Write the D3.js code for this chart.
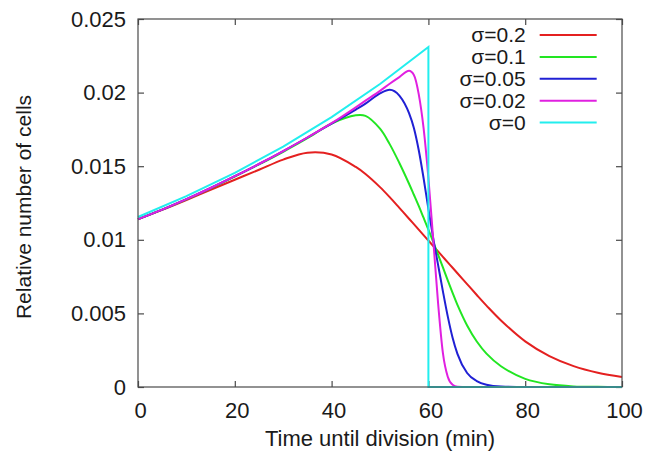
<!DOCTYPE html>
<html>
<head>
<meta charset="utf-8">
<script src="https://cdn.jsdelivr.net/npm/d3@7"></script>
<style>
  body { margin: 0; background: #fff; }
  svg { font-family: "Liberation Sans", Arial, Helvetica, sans-serif; }
  .frame { fill: none; stroke: #4a4a4a; stroke-width: 1.2; }
  .tick line { stroke: #4a4a4a; stroke-width: 1.2; }
  .tick text { font-size: 22px; fill: #1a1a1a; }
  .curve { fill: none; stroke-width: 2; }
  .lbl { font-size: 22px; fill: #1a1a1a; }
</style>
</head>
<body>
<svg id="chart"></svg>
<script>
// time until division (min), shared by the sigma > 0 curves
const times = [0,5,10,15,20,25,30,35,40,45,47,50,52,54,56,57,58,59,60,61,62,63,64,65,66,68,70,72,75,80,85,90,95,100];

const sig02 = [0.01140,0.01203,0.01270,0.01340,0.01408,0.01476,0.01545,0.01592,0.01580,0.01495,0.01447,0.01358,0.01290,0.01217,0.01143,0.01106,0.01069,0.01032,0.00995,0.00958,0.00921,0.00884,0.00847,0.00810,0.00773,0.00699,0.00625,0.00553,0.00452,0.00310,0.00210,0.00142,0.00097,0.00068];
const sig01 = [0.01140,0.01205,0.01275,0.01350,0.01430,0.01512,0.01598,0.01690,0.01790,0.01846,0.01842,0.01755,0.01650,0.01522,0.01381,0.01306,0.01230,0.01150,0.01069,0.00985,0.00899,0.00812,0.00725,0.00640,0.00558,0.00418,0.00309,0.00227,0.00141,0.00055,0.00018,0.00004,0.00001,0];
const sig005 = [0.01140,0.01205,0.01276,0.01352,0.01432,0.01515,0.01603,0.01695,0.01790,0.01885,0.01925,0.01995,0.02020,0.01980,0.01860,0.01760,0.01610,0.01420,0.01210,0.01010,0.00830,0.00650,0.00480,0.00335,0.00225,0.00095,0.00040,0.00015,0.00003,0,0,0,0,0];
const sig002 = [0.01140,0.01205,0.01276,0.01352,0.01432,0.01515,0.01603,0.01695,0.01792,0.01900,0.01945,0.02012,0.02060,0.02105,0.02148,0.02120,0.01990,0.01760,0.01420,0.01000,0.00570,0.00230,0.00070,0.00015,0.00002,0,0,0,0,0,0,0,0,0];

// sigma = 0 has a jump at 60 min
const cyanTimes = [0,10,20,30,40,50,60,60,100];
const sig0 = [0.01155,0.01297,0.01455,0.01633,0.01834,0.02058,0.02310,0,0];

const legendLabels = ["σ=0.2","σ=0.1","σ=0.05","σ=0.02","σ=0"];
const colors = ["#e42020","#22e622","#2020d4","#e020e0","#22eeee"];

const xTicks = [0,20,40,60,80,100];
const yTicks = [0,0.005,0.01,0.015,0.02,0.025];

const W = 645, H = 452;
const margin = {top: 19, right: 23, bottom: 65, left: 138};
const iw = W - margin.left - margin.right;
const ih = H - margin.top - margin.bottom;

const svg = d3.select("#chart").attr("width", W).attr("height", H);
const g = svg.append("g").attr("transform", `translate(${margin.left},${margin.top})`);

const x = d3.scaleLinear().domain([0,100]).range([0,iw]);
const y = d3.scaleLinear().domain([0,0.025]).range([ih,0]);

// axes, ticks pointing inward on all four sides
g.append("g").attr("transform", `translate(0,${ih})`)
  .call(d3.axisBottom(x).tickValues(xTicks).tickSize(-6).tickPadding(15).tickFormat(d3.format("d")))
  .call(a => a.select(".domain").remove())
  .call(a => a.selectAll("text").attr("dx", 2));
g.append("g")
  .call(d3.axisTop(x).tickValues(xTicks).tickSize(-6).tickFormat(""))
  .call(a => a.select(".domain").remove());
g.append("g")
  .call(d3.axisLeft(y).tickValues(yTicks).tickSize(-6).tickPadding(12).tickFormat(d => d === 0 ? "0" : String(+d.toFixed(3))))
  .call(a => a.select(".domain").remove());
g.append("g").attr("transform", `translate(${iw},0)`)
  .call(d3.axisRight(y).tickValues(yTicks).tickSize(-6).tickFormat(""))
  .call(a => a.select(".domain").remove());

const series = [
  times.map((t,i) => [t, sig02[i]]),
  times.map((t,i) => [t, sig01[i]]),
  times.map((t,i) => [t, sig005[i]]),
  times.map((t,i) => [t, sig002[i]]),
  cyanTimes.map((t,i) => [t, sig0[i]])
];

const soft = d3.line().x(d => x(d[0])).y(d => y(d[1])).curve(d3.curveCatmullRom.alpha(0.5));
const steep = d3.line().x(d => x(d[0])).y(d => y(d[1])).curve(d3.curveMonotoneX);
const straight = d3.line().x(d => x(d[0])).y(d => y(d[1]));
const gens = [soft, soft, steep, steep, straight];

g.selectAll("path.curve")
  .data(series)
  .enter()
  .append("path")
  .attr("class","curve")
  .attr("stroke",(d,i)=>colors[i])
  .attr("d",(d,i)=> gens[i](d));

g.append("rect").attr("class","frame").attr("width", iw).attr("height", ih);

// legend
const leg = g.append("g").attr("transform", `translate(${x(80.1)},${16})`);
const rows = leg.selectAll("g").data(legendLabels).enter().append("g")
  .attr("transform",(d,i)=>`translate(0,${i*21.9})`);
rows.append("text").attr("class","lbl").attr("text-anchor","end").attr("dy","0.35em")
  .style("font-size","21px").text(d=>d);
rows.append("line").attr("x1",14).attr("x2",71).attr("stroke",(d,i)=>colors[i]).attr("stroke-width",2);

// axis titles
svg.append("text").attr("class","lbl").attr("text-anchor","middle")
  .attr("x", margin.left + iw/2).attr("y", 446)
  .text("Time until division (min)");
svg.append("text").attr("class","lbl").attr("text-anchor","middle")
  .style("font-size","21px")
  .attr("transform", `translate(31,${margin.top + ih/2 + 4}) rotate(-90)`)
  .text("Relative number of cells");
</script>
</body>
</html>
